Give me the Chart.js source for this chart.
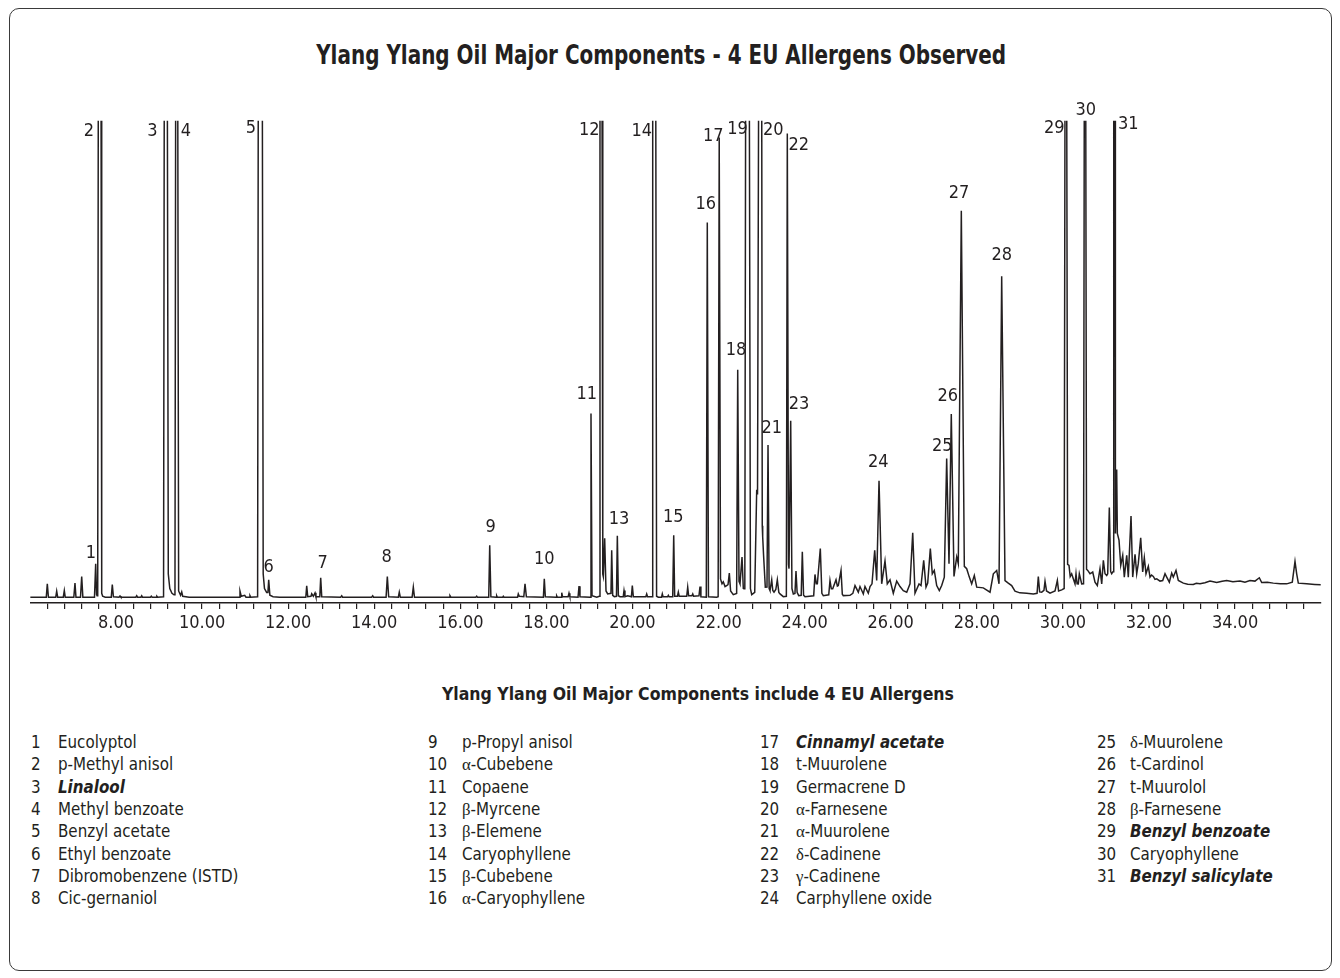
<!DOCTYPE html>
<html>
<head>
<meta charset="utf-8">
<script src="https://cdn.jsdelivr.net/npm/chart.js@4.4.1/dist/chart.umd.min.js"></script>
<style>
  html, body { margin: 0; padding: 0; background: #fff; }
  body { width: 1340px; height: 978px; position: relative; overflow: hidden;
         font-family: 'DejaVu Sans Condensed', 'Liberation Sans Narrow', sans-serif; color: #231f20; }
  #frame { position: absolute; left: 9px; top: 8px; width: 1323px; height: 963px; box-sizing: border-box;
           border: 1.5px solid #3a3a3a; border-radius: 10px; }
  #chart { position: absolute; left: 0; top: 0; }
  #title { position: absolute; left: 0; width: 1322px; top: 40px; text-align: center;
           font-weight: bold; font-size: 26px; line-height: 30px; white-space: nowrap; }
  #title span, #subtitle span { display: inline-block; transform-origin: center; }
  #subtitle { position: absolute; left: 0; width: 1396px; top: 683px; text-align: center;
              font-weight: bold; font-size: 17.5px; line-height: 22px; white-space: nowrap; }
  .num, .name { position: absolute; font-size: 16.8px; line-height: 22px; white-space: nowrap; }
  .bi { font-weight: bold; font-style: italic; }
  .g { font-family: 'Liberation Serif', 'DejaVu Serif', serif; font-size: 16.8px; }
</style>
</head>
<body>
<div id="frame"></div>
<div id="title"><span>Ylang Ylang Oil Major Components - 4 EU Allergens Observed</span></div>
<canvas id="chart" width="1340" height="660"></canvas>
<div id="subtitle"><span>Ylang Ylang Oil Major Components include 4 EU Allergens</span></div>
<div id="legend"></div>
<script>
// ---- Data ----
// Retention time (min) and detector signal (% of full scale); values above 100 are off-scale (clipped).
const tracePoints = [
 [6.0,1.2],[6.38,1.2],[6.404,3.97],[6.43,1.2],[6.60,1.2],[6.622,2.45],[6.645,1.2],
 [6.775,1.2],[6.799,2.57],[6.82,1.2],[7.02,1.2],[7.047,4.12],[7.07,1.2],
 [7.175,1.2],[7.203,5.5],[7.23,1.2],[7.50,1.2],[7.528,8.15],[7.548,1.8],[7.56,1.5],
 [7.575,1.6],[7.589,110],[7.652,110],[7.668,2.0],[7.69,1.4],[7.75,1.2],
 [7.89,1.2],[7.914,3.83],[7.94,1.3],[8.07,1.2],[8.093,1.46],[8.115,1.2],
 [8.46,1.2],[8.481,1.5],[8.50,1.2],[8.58,1.2],[8.597,1.5],[8.615,1.2],
 [8.80,1.2],[8.82,1.4],[8.84,1.2],[8.93,1.2],[8.95,1.4],[8.97,1.2],
 [9.105,1.3],[9.122,110],[9.192,110],[9.215,6],[9.25,3.0],[9.30,2.0],[9.348,1.7],
 [9.37,1.8],[9.387,110],[9.434,110],[9.455,2.5],[9.50,1.6],[9.527,2.3],[9.55,1.4],[9.70,1.2],
 [10.86,1.2],[10.881,2.45],[10.91,1.4],[10.99,1.6],[11.02,1.2],[11.10,1.2],[11.113,1.5],[11.13,1.2],
 [11.29,1.3],[11.306,110],[11.399,110],[11.42,6.0],[11.45,3.0],[11.50,2.2],
 [11.53,2.2],[11.548,4.81],[11.575,1.6],[11.65,1.3],[11.8,1.2],
 [12.41,1.2],[12.431,3.55],[12.455,1.3],[12.53,1.4],[12.547,1.9],[12.585,1.4],[12.624,2.1],[12.645,1.3],
 [12.735,1.3],[12.756,5.23],[12.78,1.3],[13.22,1.2],[13.244,1.5],[13.265,1.2],
 [13.94,1.2],[13.964,1.5],[13.985,1.2],[14.275,1.2],[14.304,5.5],[14.335,1.3],
 [14.56,1.2],[14.582,2.24],[14.605,1.2],[14.88,1.2],[14.908,3.28],[14.935,1.2],
 [15.74,1.2],[15.76,1.5],[15.78,1.2],[16.36,1.2],[16.38,1.4],[16.40,1.2],
 [16.66,1.2],[16.683,11.98],[16.71,1.3],[16.83,1.2],[16.845,1.5],[16.86,1.2],
 [16.985,1.2],[16.999,1.4],[17.015,1.2],[17.33,1.2],[17.347,1.88],[17.37,1.4],
 [17.475,1.3],[17.503,3.97],[17.535,1.3],[17.93,1.2],[17.951,5.02],[17.975,1.3],
 [18.225,1.2],[18.239,1.5],[18.255,1.2],[18.34,1.2],[18.356,2.15],[18.375,1.3],
 [18.505,1.3],[18.525,2.03],[18.545,1.3],[18.735,1.2],[18.758,3.49],[18.78,1.3],
 [19.015,1.2],[19.036,39.3],[19.06,1.5],[19.17,1.2],
 [19.23,1.4],[19.245,110],[19.292,110],[19.31,6],[19.322,5.5],[19.354,13.4],[19.385,2.5],[19.424,1.88],
 [19.50,2.0],[19.517,10.93],[19.54,1.6],[19.578,1.32],
 [19.628,1.4],[19.648,13.95],[19.672,1.5],[19.71,1.3],
 [19.785,1.3],[19.803,2.57],[19.825,1.3],[19.888,1.5],[19.975,1.3],[19.996,3.62],[20.02,1.3],
 [20.31,1.3],[20.33,1.88],[20.35,1.3],
 [20.455,1.3],[20.47,110],[20.54,110],[20.56,1.4],[20.60,1.2],
 [20.675,1.2],[20.693,1.88],[20.71,1.3],[20.815,1.3],[20.833,1.6],[20.85,1.3],
 [20.935,1.3],[20.958,14.07],[20.98,1.4],[21.045,1.4],[21.065,2.24],[21.085,1.4],
 [21.26,1.4],[21.283,3.28],[21.305,1.5],[21.38,1.5],[21.40,1.88],[21.42,1.4],
 [21.545,1.5],[21.569,3.41],[21.59,1.3],
 [21.715,1.2],[21.738,78.88],[21.765,1.3],[21.956,1.2],
 [21.99,1.3],[22.015,96.53],[22.045,5.0],[22.08,4.0],[22.11,4.39],[22.15,3.4],[22.189,3.62],[22.22,3.8],[22.25,6.21],[22.28,2.5],[22.342,1.74],
 [22.42,2.0],[22.445,48.36],[22.475,4.5],[22.498,3.97],[22.545,9.55],[22.575,3.0],[22.591,2.93],
 [22.61,3.0],[22.63,110],[22.714,110],[22.74,3.0],[22.77,1.74],
 [22.84,2.2],[22.886,23.48],[22.905,22.5],
 [22.932,110],[23.002,110],[23.015,16],[23.025,13.74],[23.045,10],[23.086,3.28],
 [23.125,3.3],[23.149,32.76],[23.175,3.0],[23.195,2.57],[23.235,4.81],[23.26,2.6],[23.288,2.24],[23.33,2.8],[23.365,4.81],[23.40,2.2],[23.428,1.88],[23.504,1.32],
 [23.575,1.4],[23.597,97.37],[23.625,8],[23.637,7.11],
 [23.676,37.78],[23.705,3.0],[23.737,1.88],
 [23.775,2.0],[23.799,6.63],[23.825,2.2],[23.862,1.53],
 [23.92,1.6],[23.946,10.6],[23.975,1.6],[24.008,1.32],
 [24.21,1.5],[24.24,5.92],[24.27,3.97],[24.295,3.97],[24.364,11.29],[24.40,2.0],[24.434,1.53],
 [24.56,1.7],[24.589,4.66],[24.62,2.93],[24.652,2.93],[24.729,4.81],[24.76,3.5],[24.782,3.62],[24.845,6.75],[24.875,1.8],[24.898,1.53],
 [25.054,1.6],[25.12,2.0],[25.17,3.62],[25.247,2.24],[25.286,3.41],[25.363,1.88],[25.402,3.41],[25.479,2.03],[25.519,3.41],[25.565,3.97],[25.628,10.93],[25.674,4.66],
 [25.728,25.36],[25.79,3.97],[25.867,8.72],[25.92,3.97],[25.983,4.81],[26.06,2.03],[26.139,4.54],[26.216,3.41],[26.292,2.57],[26.372,2.24],
 [26.448,3.97],[26.511,14.57],[26.564,2.03],[26.657,3.97],[26.704,3.62],[26.766,8.84],[26.82,3.28],[26.859,4.12],[26.92,11.29],[26.966,6.06],
 [27.012,6.75],[27.068,3.62],[27.129,2.57],[27.184,3.62],[27.245,5.37],
 [27.3,29.96],[27.354,8.15],[27.407,39.16],[27.47,5.5],[27.533,9.55],[27.57,8.15],
 [27.64,81.33],[27.71,7.59],[27.765,7.11],[27.826,5.37],[27.881,3.97],[27.942,5.71],[27.998,3.28],[28.151,3.14],[28.307,2.24],[28.384,6.06],[28.462,6.75],[28.516,3.97],
 [28.578,67.74],[28.655,4.66],[28.731,4.12],[28.81,3.62],[28.887,2.45],[29.0,2.1],[29.159,2.03],[29.313,1.88],[29.40,2.0],[29.429,5.5],[29.46,2.3],[29.508,2.24],
 [29.56,2.6],[29.585,4.5],[29.62,2.5],[29.701,2.03],[29.817,2.5],[29.871,4.66],[29.90,2.5],[29.973,2.72],
 [30.03,3.0],[30.05,110],[30.088,110],[30.11,8],[30.142,7.8],[30.17,5.5],[30.204,6.06],[30.242,5.02],[30.282,3.97],[30.305,6.06],[30.33,4.0],[30.358,3.97],[30.382,6.06],[30.437,3.97],
 [30.48,4.0],[30.498,110],[30.53,110],[30.55,7.0],[30.577,6.75],[30.63,6.06],[30.693,6.42],[30.746,4.33],[30.8,3.62],[30.862,7.11],[30.902,3.97],[30.94,8.84],[30.979,6.06],[31.018,5.71],[31.041,6.06],[31.079,19.8],[31.11,6.5],[31.134,6.06],
 [31.165,6.5],[31.181,110],[31.211,110],[31.22,14.43],[31.25,27.66],[31.265,14.43],[31.304,13.03],[31.344,7.8],[31.39,9.89],[31.427,5.37],[31.483,9.89],[31.52,5.37],
 [31.583,18.04],[31.622,5.37],[31.676,10.1],[31.715,6.06],[31.752,8.15],[31.808,13.53],[31.854,6.42],[31.892,9.41],[31.931,6.06],[31.985,7.59],[32.024,5.37],
 [32.06,5.8],[32.101,5.5],[32.14,4.9],[32.18,5.02],[32.257,4.54],[32.319,4.66],[32.373,6.06],[32.412,5.37],[32.473,4.33],[32.528,6.21],[32.565,5.37],[32.628,6.75],[32.682,4.66],
 [32.798,4.12],[32.9,3.9],[33.03,3.83],[33.1,4.1],[33.186,3.97],[33.3,4.2],[33.418,4.54],[33.574,4.24],[33.7,4.5],[33.806,4.66],[33.95,4.4],[34.115,4.54],[34.23,4.3],
 [34.347,4.66],[34.463,4.54],[34.564,5.23],[34.619,4.24],[34.75,4.3],[34.889,4.12],[35.05,4.0],[35.2,3.97],[35.33,4.33],[35.393,8.63],[35.432,6.06],[35.47,4.12],
 [35.665,3.97],[35.85,3.85],[36.0,3.76]
];

// Peak numbers and where each number label sits (retention time, signal level)
const peakNumbers = [1,2,3,4,5,6,7,8,9,10,11,12,13,14,15,16,17,18,19,20,21,22,23,24,25,26,27,28,29,30,31];
const labelTimes  = [7.419,7.373,8.843,9.626,11.137,11.548,12.803,14.29,16.706,17.951,18.936,18.997,19.687,20.214,20.948,21.701,21.875,22.405,22.44,23.272,23.235,23.862,23.869,25.711,27.199,27.324,27.586,28.578,29.8,30.53,31.52];
const labelLevels = [10.24,97.9,97.9,97.9,98.4,7.46,8.3,9.55,15.6,9.05,43.2,98.0,17.4,97.9,17.7,82.7,96.8,52.4,98.3,98.1,36.2,94.9,41.25,29.2,32.55,42.8,85.0,72.07,98.4,102.2,99.3];

// Axis
const timeMin = 6.01, timeMax = 35.99;
const minorStep = 0.4, majorStep = 2;

// Compound table
const compoundNames = ['Eucolyptol','p-Methyl anisol','Linalool','Methyl benzoate','Benzyl acetate','Ethyl benzoate','Dibromobenzene (ISTD)','Cic-gernaniol',
  'p-Propyl anisol','α-Cubebene','Copaene','β-Myrcene','β-Elemene','Caryophyllene','β-Cubebene','α-Caryophyllene',
  'Cinnamyl acetate','t-Muurolene','Germacrene D','α-Farnesene','α-Muurolene','δ-Cadinene','γ-Cadinene','Carphyllene oxide',
  'δ-Muurolene','t-Cardinol','t-Muurolol','β-Farnesene','Benzyl benzoate','Caryophyllene','Benzyl salicylate'];
const allergenNumbers = [3,17,29,31];

// ---- Headings: condense to the reference widths ----
function condense(id, targetWidth) {
  const s = document.querySelector('#' + id + ' span');
  const w = s.getBoundingClientRect().width;
  s.style.transform = 'scaleX(' + (targetWidth / w) + ')';
}
condense('title', 690);
condense('subtitle', 512);

// ---- Layout of compound table ----
const colNumX = [31, 428, 760, 1097];
const colNameX = [58, 462, 796, 1130];
const rowY0 = 731, rowStep = 22.3, rowsPerCol = 8;
const legend = document.getElementById('legend');
compoundNames.forEach((name, i) => {
  const col = Math.floor(i / rowsPerCol), row = i % rowsPerCol;
  const top = rowY0 + row * rowStep;
  const n = document.createElement('div');
  n.className = 'num'; n.style.left = colNumX[col] + 'px'; n.style.top = top + 'px';
  n.textContent = String(i + 1);
  const t = document.createElement('div');
  t.className = 'name' + (allergenNumbers.includes(i + 1) ? ' bi' : '');
  t.style.left = colNameX[col] + 'px'; t.style.top = top + 'px';
  const m = name.match(/^([αβγδ])(.*)$/);
  if (m) {
    const g = document.createElement('span'); g.className = 'g'; g.textContent = m[1];
    t.appendChild(g); t.appendChild(document.createTextNode(m[2]));
  } else t.textContent = name;
  legend.appendChild(n); legend.appendChild(t);
});

// ---- Chart ----
const ink = '#231f20';
const fontFam = "'DejaVu Sans Condensed', 'Liberation Sans Narrow', sans-serif";

const peakLabelPlugin = {
  id: 'peakLabels',
  afterDatasetsDraw(chart) {
    const {ctx, scales: {x, y}} = chart;
    ctx.save();
    ctx.fillStyle = ink;
    ctx.font = '18px ' + fontFam;
    ctx.textAlign = 'center';
    ctx.textBaseline = 'middle';
    peakNumbers.forEach((n, i) => {
      ctx.fillText(String(n), x.getPixelForValue(labelTimes[i]), y.getPixelForValue(labelLevels[i]));
    });
    ctx.restore();
  }
};

new Chart(document.getElementById('chart'), {
  type: 'line',
  data: {
    datasets: [{
      data: tracePoints.map(p => ({x: p[0], y: p[1]})),
      borderColor: ink,
      borderWidth: 1.5,
      pointRadius: 0,
      tension: 0,
      fill: false
    }]
  },
  options: {
    responsive: false,
    devicePixelRatio: 1,
    animation: false,
    events: [],
    layout: { padding: { left: 30.35, right: 19.3, top: 120.7, bottom: 21.4 } },
    plugins: { legend: { display: false }, tooltip: { enabled: false }, title: { display: false } },
    scales: {
      x: {
        type: 'linear',
        min: timeMin, max: timeMax,
        border: { display: true, color: ink, width: 1.5 },
        grid: { drawOnChartArea: false, drawTicks: true, tickLength: 6, color: ink, lineWidth: 1.2 },
        ticks: {
          stepSize: minorStep,
          includeBounds: false,
          autoSkip: false,
          maxRotation: 0,
          padding: 4,
          color: ink,
          font: { family: fontFam, size: 18 },
          callback: (v) => {
            const r = v / majorStep;
            return Math.abs(r - Math.round(r)) < 1e-6 ? v.toFixed(2) : '';
          }
        }
      },
      y: { display: false, min: 0, max: 100 }
    }
  },
  plugins: [peakLabelPlugin]
});
</script>
</body>
</html>
